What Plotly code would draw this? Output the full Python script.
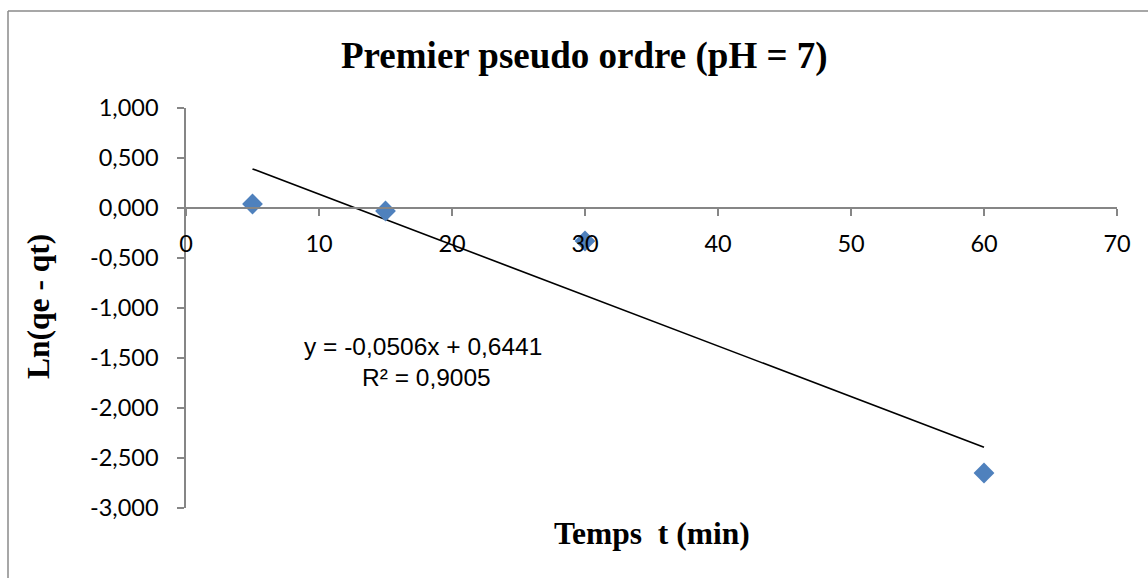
import plotly.graph_objects as go

# Kinetic data: time (min) vs Ln(qe - qt)
temps_min = [5, 15, 30, 60]
ln_qe_qt = [0.04, -0.03, -0.33, -2.65]

# Linear fit reported on the chart
pente = -0.0506
ordonnee = 0.6441
r2 = 0.9005

y_ticks = [-3.0, -2.5, -2.0, -1.5, -1.0, -0.5, 0.0, 0.5, 1.0]
y_tick_labels = ["-3,000", "-2,500", "-2,000", "-1,500", "-1,000",
                 "-0,500", "0,000", "0,500", "1,000"]
x_ticks = [0, 10, 20, 30, 40, 50, 60, 70]
x_tick_labels = ["0", "10", "20", "30", "40", "50", "60", "70"]

W, H = 1148, 578
ML, MR, MT, MB = 186, 31, 108, 70
PW, PH = W - ML - MR, H - MT - MB


def px_x(px):
    return (px - ML) / PW


def px_y(py):
    return (H - MB - py) / PH


AXIS_GREY = "#868686"
TICK_FONT = dict(family="Lato, Calibri, sans-serif", size=23.5, color="#000000")
SERIF_BOLD = "Liberation Serif, Times New Roman, serif"
EQ_FONT = dict(family="Liberation Sans, Arial, sans-serif", size=24.5,
               color="#000000")

x_fit = [min(temps_min), max(temps_min)]
y_fit = [pente * x + ordonnee for x in x_fit]

fig = go.Figure()
fig.add_trace(go.Scatter(
    x=x_fit, y=y_fit, mode="lines",
    line=dict(color="#000000", width=1.6),
    hoverinfo="skip", showlegend=False,
))
fig.add_trace(go.Scatter(
    x=temps_min, y=ln_qe_qt, mode="markers",
    marker=dict(symbol="diamond", size=16, color="#4F81BD",
                line=dict(width=0)),
    showlegend=False,
))

y_min, y_max = -3.0, 1.0
fig.update_layout(
    width=W, height=H,
    margin=dict(l=ML, r=MR, t=MT, b=MB),
    paper_bgcolor="#ffffff", plot_bgcolor="#ffffff",
    xaxis=dict(
        range=[0, 70], tickvals=x_ticks, ticktext=x_tick_labels,
        showgrid=False, zeroline=False, showline=True,
        linecolor=AXIS_GREY, linewidth=1.5,
        ticks="outside", ticklen=7, tickcolor=AXIS_GREY, tickwidth=1.5,
        tickfont=TICK_FONT, ticklabelstandoff=8,
        anchor="free", position=(0 - y_min) / (y_max - y_min),
    ),
    yaxis=dict(
        range=[y_min, y_max], tickvals=y_ticks, ticktext=y_tick_labels,
        showgrid=False, zeroline=False, showline=True,
        linecolor=AXIS_GREY, linewidth=1.5,
        ticks="outside", ticklen=7, tickcolor=AXIS_GREY, tickwidth=1.5,
        tickfont=TICK_FONT, ticklabelstandoff=14,
    ),
)

eq_text = f"y = {pente:.4f}x + {ordonnee:.4f}".replace(".", ",")
r2_text = f"R² = {r2:.4f}".replace(".", ",")

annotations = [
    dict(text="<b>Premier pseudo ordre (pH = 7)</b>",
         x=px_x(584), y=px_y(56), xanchor="center", yanchor="middle",
         font=dict(family=SERIF_BOLD, size=37, color="#000000")),
    dict(text="<b>Temps  t (min)</b>",
         x=px_x(652), y=px_y(533), xanchor="center", yanchor="middle",
         font=dict(family=SERIF_BOLD, size=31.5, color="#000000")),
    dict(text="<b>Ln(qe - qt)</b>", textangle=-90,
         x=px_x(38), y=px_y(307), xanchor="center", yanchor="middle",
         font=dict(family=SERIF_BOLD, size=31.5, color="#000000")),
    dict(text=eq_text, x=px_x(423), y=px_y(346),
         xanchor="center", yanchor="middle", font=EQ_FONT),
    dict(text=r2_text, x=px_x(426), y=px_y(377),
         xanchor="center", yanchor="middle", font=EQ_FONT),
]
for a in annotations:
    a.update(xref="paper", yref="paper", showarrow=False)
fig.update_layout(annotations=annotations)

# Chart-area frame (top and left edges visible)
fig.add_shape(type="line", xref="paper", yref="paper",
              x0=px_x(8), x1=px_x(W + 10), y0=px_y(11), y1=px_y(11),
              line=dict(color="#8a8a8a", width=1.5))
fig.add_shape(type="line", xref="paper", yref="paper",
              x0=px_x(8), x1=px_x(8), y0=px_y(11), y1=px_y(H + 10),
              line=dict(color="#8a8a8a", width=1.5))

fig.write_html("out.html")
